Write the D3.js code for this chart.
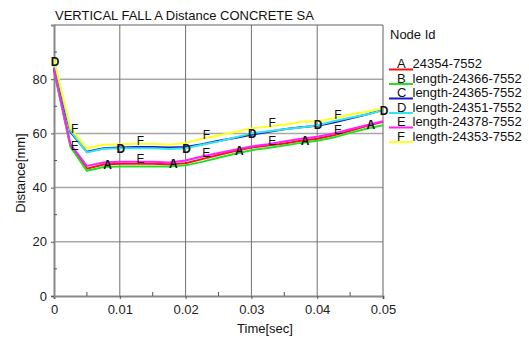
<!DOCTYPE html>
<html>
<head>
<meta charset="utf-8">
<script src="https://cdn.jsdelivr.net/npm/d3@7"></script>
<style>
  body { margin: 0; background: #fff; }
  text { font-family: "Liberation Sans", Arial, sans-serif; }
</style>
</head>
<body>
<svg id="svg" width="529" height="338"></svg>
<script>
// data
var times = [0, 0.0025, 0.005, 0.0075, 0.01, 0.0125, 0.015, 0.0175, 0.02, 0.0225, 0.025,
  0.0275, 0.03, 0.0325, 0.035, 0.0375, 0.04, 0.0425, 0.045, 0.0475, 0.05];

var seriesIds = ["A", "B", "C", "D", "E", "F"];
var seriesNames = ["24354-7552", "length-24366-7552", "length-24365-7552",
  "length-24351-7552", "length-24378-7552", "length-24353-7552"];
var seriesColors = ["#ff1010", "#22e022", "#1818c8", "#30e8e8", "#ff20ff", "#ffff20"];

var valuesA = [83.5, 55.5, 47.0, 48.5, 48.8, 48.8, 48.8, 48.6, 49.0, 50.5, 52.0, 53.5, 54.8, 55.5, 56.3, 57.3, 58.0, 59.3, 61.0, 62.7, 64.3];
var valuesB = [83.0, 55.0, 46.2, 47.6, 47.8, 47.8, 47.8, 47.8, 48.2, 49.5, 51.0, 52.5, 53.8, 54.6, 55.5, 56.5, 57.3, 58.5, 60.2, 61.7, 63.0];
var valuesC = [84.0, 60.5, 53.2, 54.5, 54.8, 55.0, 55.0, 54.8, 55.0, 56.0, 57.3, 58.3, 59.5, 60.5, 61.5, 62.3, 62.8, 64.0, 65.5, 67.0, 68.7];
var valuesD = [86.5, 61.0, 53.0, 54.3, 54.5, 54.5, 54.5, 54.2, 54.5, 55.8, 57.0, 58.5, 60.0, 60.8, 61.5, 62.2, 63.0, 64.5, 65.8, 67.0, 68.5];
var valuesE = [84.0, 56.0, 48.0, 49.3, 49.5, 49.5, 49.5, 49.3, 50.0, 51.5, 52.8, 54.0, 55.2, 56.0, 57.0, 58.0, 58.8, 60.0, 61.5, 63.0, 64.5];
var valuesF = [87.5, 62.0, 54.5, 55.8, 56.0, 56.2, 56.2, 55.8, 56.5, 58.0, 59.2, 60.5, 61.8, 62.5, 63.2, 64.3, 64.5, 65.5, 67.0, 68.0, 69.2];

// letters drawn on the curves: B and C sit under A and D, so only these show
var labelIds = ["A", "D", "E", "F"];
var labelStart = [0.008, 0, 0.003, 0.003];

var xTicks = [0, 0.01, 0.02, 0.03, 0.04, 0.05];
var yTicks = [0, 20, 40, 60, 80];

var allValues = [valuesA, valuesB, valuesC, valuesD, valuesE, valuesF];

var svg = d3.select("#svg");

var x = d3.scaleLinear().domain([0, 0.05]).range([54, 383]);
var y = d3.scaleLinear().domain([0, 100]).range([296, 25]);

// grid
svg.append("g").selectAll("line")
  .data([20, 40, 60, 80])
  .enter().append("line")
  .attr("x1", x(0)).attr("x2", x(0.05))
  .attr("y1", d => y(d)).attr("y2", d => y(d))
  .attr("stroke", "#a8a8a8").attr("stroke-width", 1.5);

svg.append("g").selectAll("line")
  .data([0.01, 0.02, 0.03, 0.04])
  .enter().append("line")
  .attr("x1", d => x(d)).attr("x2", d => x(d))
  .attr("y1", y(0)).attr("y2", y(100))
  .attr("stroke", "#707070").attr("stroke-width", 1);

// frame top and right
svg.append("line")
  .attr("x1", x(0)).attr("x2", x(0.05)).attr("y1", y(100)).attr("y2", y(100))
  .attr("stroke", "#606060").attr("stroke-width", 1);
svg.append("line")
  .attr("x1", x(0.05)).attr("x2", x(0.05)).attr("y1", y(100)).attr("y2", y(0))
  .attr("stroke", "#606060").attr("stroke-width", 1);

// axes
var xAxis = svg.append("g")
  .attr("transform", "translate(0," + y(0) + ")")
  .call(d3.axisBottom(x).tickValues(xTicks).tickFormat(d => d === 0 ? "0" : d3.format(".2f")(d))
    .tickSize(3).tickPadding(6));
xAxis.select(".domain").attr("stroke", "#888").attr("stroke-width", 2);
xAxis.selectAll(".tick line").attr("stroke", "#555");
xAxis.selectAll("text").attr("font-size", 13).attr("fill", "#222")
  .style("font-family", "'Liberation Sans', Arial, sans-serif");

var yAxis = svg.append("g")
  .attr("transform", "translate(" + x(0) + ",0)")
  .call(d3.axisLeft(y).tickValues(yTicks).tickSize(3).tickPadding(4));
yAxis.select(".domain").attr("stroke", "#888").attr("stroke-width", 2);
yAxis.selectAll(".tick line").attr("stroke", "#555");
yAxis.selectAll("text").attr("font-size", 13).attr("fill", "#222")
  .style("font-family", "'Liberation Sans', Arial, sans-serif");

// minor ticks
svg.append("g").selectAll("line")
  .data([0.005, 0.015, 0.025, 0.035, 0.045])
  .enter().append("line")
  .attr("x1", d => x(d)).attr("x2", d => x(d))
  .attr("y1", y(0)).attr("y2", y(0) - 4)
  .attr("stroke", "#555");
svg.append("g").selectAll("line")
  .data([10, 30, 50, 70, 90])
  .enter().append("line")
  .attr("x1", x(0)).attr("x2", x(0) + 3)
  .attr("y1", d => y(d)).attr("y2", d => y(d))
  .attr("stroke", "#555");

// curves
var line = d3.line()
  .x((d, i) => x(times[i]))
  .y(d => y(d));

svg.append("g").selectAll("path")
  .data(allValues)
  .enter().append("path")
  .attr("d", line)
  .attr("fill", "none")
  .attr("stroke", (d, i) => seriesColors[i])
  .attr("stroke-width", 2);

// interpolate a series at time t (only to place the letter on its curve)
function valueAt(vals, t) {
  var i = d3.bisectRight(times, t) - 1;
  if (i >= times.length - 1) return vals[vals.length - 1];
  var f = (t - times[i]) / (times[i + 1] - times[i]);
  return vals[i] + f * (vals[i + 1] - vals[i]);
}

var marks = [];
labelIds.forEach((id, s) => {
  var vals = allValues[seriesIds.indexOf(id)];
  for (var t = labelStart[s]; t <= 0.0501; t += 0.01) {
    marks.push({ id: id, t: t, v: valueAt(vals, t) });
  }
});

svg.append("g").selectAll("text")
  .data(marks)
  .enter().append("text")
  .attr("x", d => x(d.t) + 1)
  .attr("y", d => y(d.v) - (d.id === "E" || d.id === "F" ? 3 : 0))
  .attr("dy", "0.35em")
  .attr("text-anchor", "middle")
  .attr("font-size", 12)
  .attr("font-weight", d => (d.id === "A" || d.id === "D") ? "bold" : "normal")
  .attr("fill", "#111")
  .text(d => d.id);

// title and axis labels
svg.append("text")
  .attr("x", 55).attr("y", 20)
  .attr("font-size", 13).attr("fill", "#111")
  .text("VERTICAL FALL A Distance CONCRETE SA");

svg.append("text")
  .attr("transform", "translate(25,173)rotate(-90)")
  .attr("text-anchor", "middle")
  .attr("font-size", 13).attr("fill", "#111")
  .text("Distance[mm]");

svg.append("text")
  .attr("x", 265).attr("y", 333)
  .attr("text-anchor", "middle")
  .attr("font-size", 13).attr("fill", "#111")
  .text("Time[sec]");

// legend
svg.append("text")
  .attr("x", 390).attr("y", 39)
  .attr("font-size", 13).attr("fill", "#111")
  .text("Node Id");

var legend = svg.append("g").selectAll("g")
  .data(seriesIds)
  .enter().append("g")
  .attr("transform", (d, i) => "translate(389," + (68 + i * 14.5) + ")");
legend.append("line")
  .attr("x1", 0).attr("x2", 24).attr("y1", 1.5).attr("y2", 1.5)
  .attr("stroke", (d, i) => seriesColors[i]).attr("stroke-width", 2);
legend.append("text")
  .attr("x", 8).attr("y", 0)
  .attr("font-size", 13).attr("fill", "#111")
  .text(d => d);
legend.append("text")
  .attr("x", 23.5).attr("y", 0)
  .attr("font-size", 13).attr("fill", "#111")
  .text((d, i) => seriesNames[i]);
</script>
</body>
</html>
